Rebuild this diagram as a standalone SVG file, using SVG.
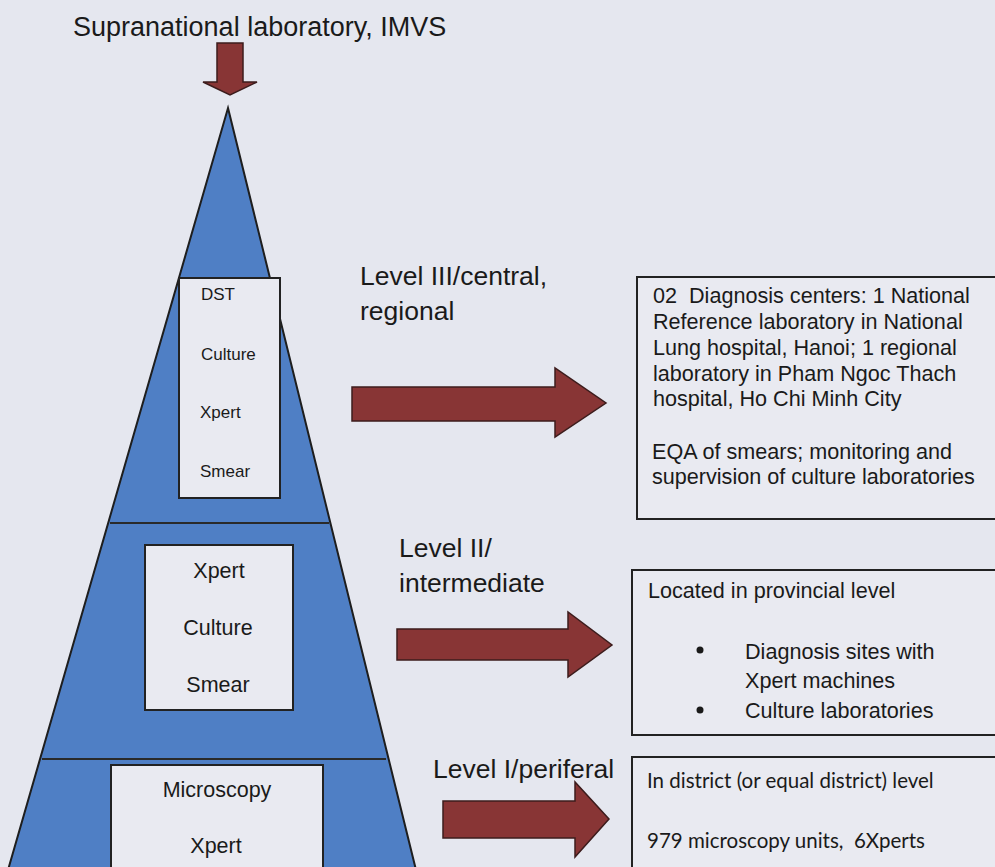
<svg xmlns="http://www.w3.org/2000/svg" width="995" height="867" viewBox="0 0 995 867">
<style>
  .t{font-family:"Liberation Sans",Arial,sans-serif;fill:#1a1a1a}
  .c{font-family:Lato,"Liberation Sans",sans-serif;fill:#1a1a1a}
  .arr{fill:#883535;stroke:#3c1c1c;stroke-width:1.5;stroke-linejoin:miter}
  .box{fill:#e9eaf1;stroke:#222;stroke-width:2}
  .div{stroke:#2a2a2a;stroke-width:1.8}
</style>
<rect x="0" y="0" width="995" height="867" fill="#e5e7ef"/>
<g id="title">
  <text class="t" x="73" y="36" font-size="27">Supranational laboratory, IMVS</text>
</g>
<g id="pyramid">
  <polygon points="228,108 416,870 8,870" fill="#4f7fc5" stroke="#1e1e1e" stroke-width="2"/>
  <line class="div" x1="110" y1="523" x2="329" y2="523"/>
  <line class="div" x1="42" y1="759" x2="386" y2="759"/>
</g>
<g id="level3-box">
  <rect class="box" x="179" y="278" width="101" height="220"/>
  <text class="t" x="201" y="300" font-size="17">DST</text>
  <text class="t" x="201" y="360" font-size="17">Culture</text>
  <text class="t" x="200" y="418" font-size="17">Xpert</text>
  <text class="t" x="200" y="477" font-size="17">Smear</text>
</g>
<g id="level2-box">
  <rect class="box" x="145" y="545" width="148" height="165"/>
  <text class="t" x="219" y="578" font-size="21.5" text-anchor="middle">Xpert</text>
  <text class="t" x="218" y="635" font-size="21.5" text-anchor="middle">Culture</text>
  <text class="t" x="218" y="692" font-size="21.5" text-anchor="middle">Smear</text>
</g>
<g id="level1-box">
  <rect class="box" x="111" y="765" width="212" height="110"/>
  <text class="t" x="217" y="797" font-size="21.5" text-anchor="middle">Microscopy</text>
  <text class="t" x="216" y="853" font-size="21.5" text-anchor="middle">Xpert</text>
</g>
<g id="labels">
  <text class="t" x="360" y="285" font-size="26.5">Level III/central,</text>
  <text class="t" x="360" y="320" font-size="26.5">regional</text>
  <text class="t" x="399" y="557" font-size="26.5">Level II/</text>
  <text class="t" x="399" y="592" font-size="26.5">intermediate</text>
  <text class="t" x="433" y="778" font-size="26.5">Level I/periferal</text>
</g>
<g id="connectors">
  <polygon class="arr" points="217,43 243,43 243,82 257,82 230,95 203,82 217,82"/>
  <polygon class="arr" points="352,387 555,387 555,368 606,403 555,437 555,421 352,421"/>
  <polygon class="arr" points="397,629 568,629 568,612 612,645 568,677 568,660 397,660"/>
  <polygon class="arr" points="443,801 575,801 575,782 609,819 575,857 575,838 443,838"/>
</g>
<g id="info-central">
  <rect class="box" x="637" y="277" width="370" height="242"/>
  <text class="t" font-size="21.6" xml:space="preserve"><tspan x="653" y="303">02  Diagnosis centers: 1 National</tspan><tspan x="653" y="329">Reference laboratory in National</tspan><tspan x="653" y="355">Lung hospital, Hanoi; 1 regional</tspan><tspan x="653" y="381">laboratory in Pham Ngoc Thach</tspan><tspan x="653" y="406">hospital, Ho Chi Minh City</tspan><tspan x="652" y="459">EQA of smears; monitoring and</tspan><tspan x="652" y="484">supervision of culture laboratories</tspan></text>
</g>
<g id="info-intermediate">
  <rect class="box" x="632" y="570" width="375" height="165"/>
  <text class="t" x="648" y="598" font-size="21.6">Located in provincial level</text>
  <circle cx="700" cy="650" r="3.5" fill="#1a1a1a"/>
  <circle cx="700" cy="710" r="3.5" fill="#1a1a1a"/>
  <text class="t" font-size="21.6"><tspan x="745" y="659">Diagnosis sites with</tspan><tspan x="745" y="688">Xpert machines</tspan><tspan x="745" y="718">Culture laboratories</tspan></text>
</g>
<g id="info-peripheral">
  <rect class="box" x="632" y="757" width="375" height="115"/>
  <text class="c" x="647" y="788" font-size="20.5">In district (or equal district) level</text>
  <text class="c" x="647" y="848" font-size="20.5" xml:space="preserve">979 microscopy units,  6Xperts</text>
</g>
</svg>
